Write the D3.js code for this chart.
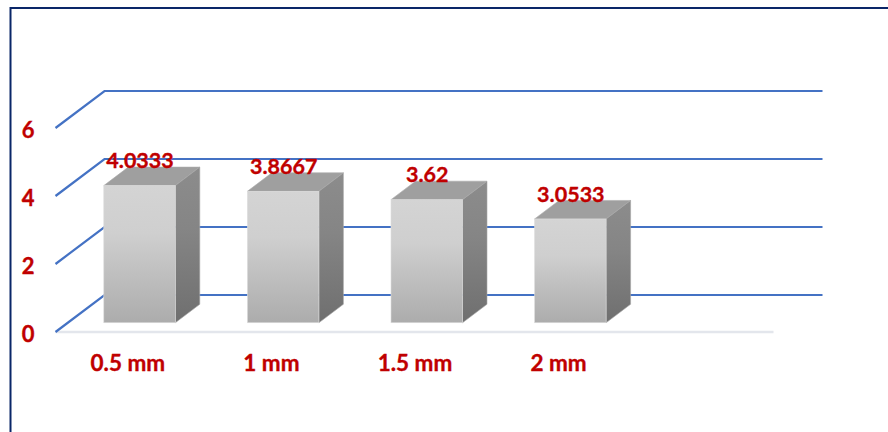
<!DOCTYPE html>
<html><head><meta charset="utf-8">
<script src="https://cdn.jsdelivr.net/npm/d3@7"></script>
<style>
html,body{margin:0;padding:0;background:#fff}
svg{display:block}
text{font-family:Lato,"Noto Sans",sans-serif;font-weight:700;fill:#c00000;stroke:#c00000;stroke-width:0.35px}
</style></head><body>
<svg id="c" width="888" height="432"></svg>
<script>
const categories = ["0.5 mm", "1 mm", "1.5 mm", "2 mm"];
const slots = ["0.5 mm", "1 mm", "1.5 mm", "2 mm", ""];
const values = [4.0333, 3.8667, 3.62, 3.0533];
const valueLabels = ["4.0333", "3.8667", "3.62", "3.0533"];
const yTicks = [0, 2, 4, 6];

const svg = d3.select("#c");
const depthX = 49, depthY = 37;
const x = d3.scaleBand().domain(slots).range([55.5, 773.5]).paddingInner(0).paddingOuter(0);
const y = d3.scaleLinear().domain([0, 6]).range([332, 128]);

const defs = svg.append("defs");
const gf = defs.append("linearGradient").attr("id", "front").attr("x1", 0).attr("y1", 0).attr("x2", 0).attr("y2", 1);
gf.append("stop").attr("offset", "0%").attr("stop-color", "#d4d4d4");
gf.append("stop").attr("offset", "35%").attr("stop-color", "#cfcfcf");
gf.append("stop").attr("offset", "100%").attr("stop-color", "#acacac");
const gs = defs.append("linearGradient").attr("id", "side").attr("x1", 0).attr("y1", 0).attr("x2", 0).attr("y2", 1);
gs.append("stop").attr("offset", "0%").attr("stop-color", "#8c8c8c");
gs.append("stop").attr("offset", "40%").attr("stop-color", "#858585");
gs.append("stop").attr("offset", "100%").attr("stop-color", "#6f6f6f");

// frame
svg.append("path").attr("d", "M10.5,432V8H888").attr("fill", "none").attr("stroke", "#0a2668").attr("stroke-width", 2);

// floor
svg.append("line").attr("x1", x.range()[0]).attr("x2", x.range()[1]).attr("y1", y(0)).attr("y2", y(0))
  .attr("stroke", "#e3e6ec").attr("stroke-width", 2.4);

// gridlines in 3D
svg.append("g").selectAll("path").data(yTicks).join("path")
  .attr("fill", "none").attr("stroke", "#4472c4").attr("stroke-width", 2.2).attr("stroke-linejoin", "miter")
  .attr("d", d => {
    const p = d3.path();
    p.moveTo(x.range()[0], y(d));
    p.lineTo(x.range()[0] + depthX, y(d) - depthY);
    p.lineTo(x.range()[1] + depthX, y(d) - depthY);
    return p.toString();
  });

// axes
const yAxis = svg.append("g").attr("transform", "translate(34.5,2)")
  .call(d3.axisLeft(y).tickValues(yTicks).tickFormat(d3.format("d")).tickSize(0).tickPadding(0));
yAxis.select(".domain").remove();
yAxis.selectAll("text").attr("font-size", 22).style("font-family", "Lato").style("font-weight", 700).attr("fill", "#c00000");

const xAxis = svg.append("g").attr("transform", "translate(0.5,355.5)")
  .call(d3.axisBottom(x).tickValues(categories).tickSize(0).tickPadding(0));
xAxis.select(".domain").remove();
xAxis.selectAll("text").attr("font-size", 22.5).style("font-family", "Lato").style("font-weight", 700).attr("fill", "#c00000");

// bars
const barW = 71.5, barDx = depthX / 2, barDy = depthY / 2;
const bars = svg.append("g").selectAll("g").data(values).join("g");
const barLeft = (d, i) => x(categories[i]) + x.bandwidth() / 2 + depthX / 4 - barW / 2;
const barBase = y(0) - depthY / 4;
const barTop = d => barBase - (y(0) - y(d));
bars.append("path").attr("fill", "#9f9f9f").attr("stroke", "#ababab").attr("stroke-width", 0.6)
  .attr("d", (d, i) => {
    const l = barLeft(d, i), t = barTop(d);
    return `M${l},${t}l${barW},0l${barDx},${-barDy}l${-barW},0Z`;
  });
bars.append("path").attr("fill", "url(#side)").attr("stroke", "#a8a8a8").attr("stroke-width", 0.6)
  .attr("d", (d, i) => {
    const l = barLeft(d, i) + barW, t = barTop(d);
    return `M${l},${t}l${barDx},${-barDy}L${l + barDx},${barBase - barDy}L${l},${barBase}Z`;
  });
bars.append("rect").attr("fill", "url(#front)").attr("stroke", "#dcdcdc").attr("stroke-width", 0.6)
  .attr("x", (d, i) => barLeft(d, i)).attr("y", d => barTop(d)).attr("width", barW).attr("height", d => barBase - barTop(d));

// value labels
svg.append("g").selectAll("text").data(values).join("text")
  .attr("x", (d, i) => barLeft(d, i) + barW / 2 + 0.5)
  .attr("y", d => barTop(d) - 25)
  .attr("dy", "0.36em").attr("text-anchor", "middle").attr("font-size", 21.5)
  .text((d, i) => valueLabels[i]);
</script>
</body></html>
